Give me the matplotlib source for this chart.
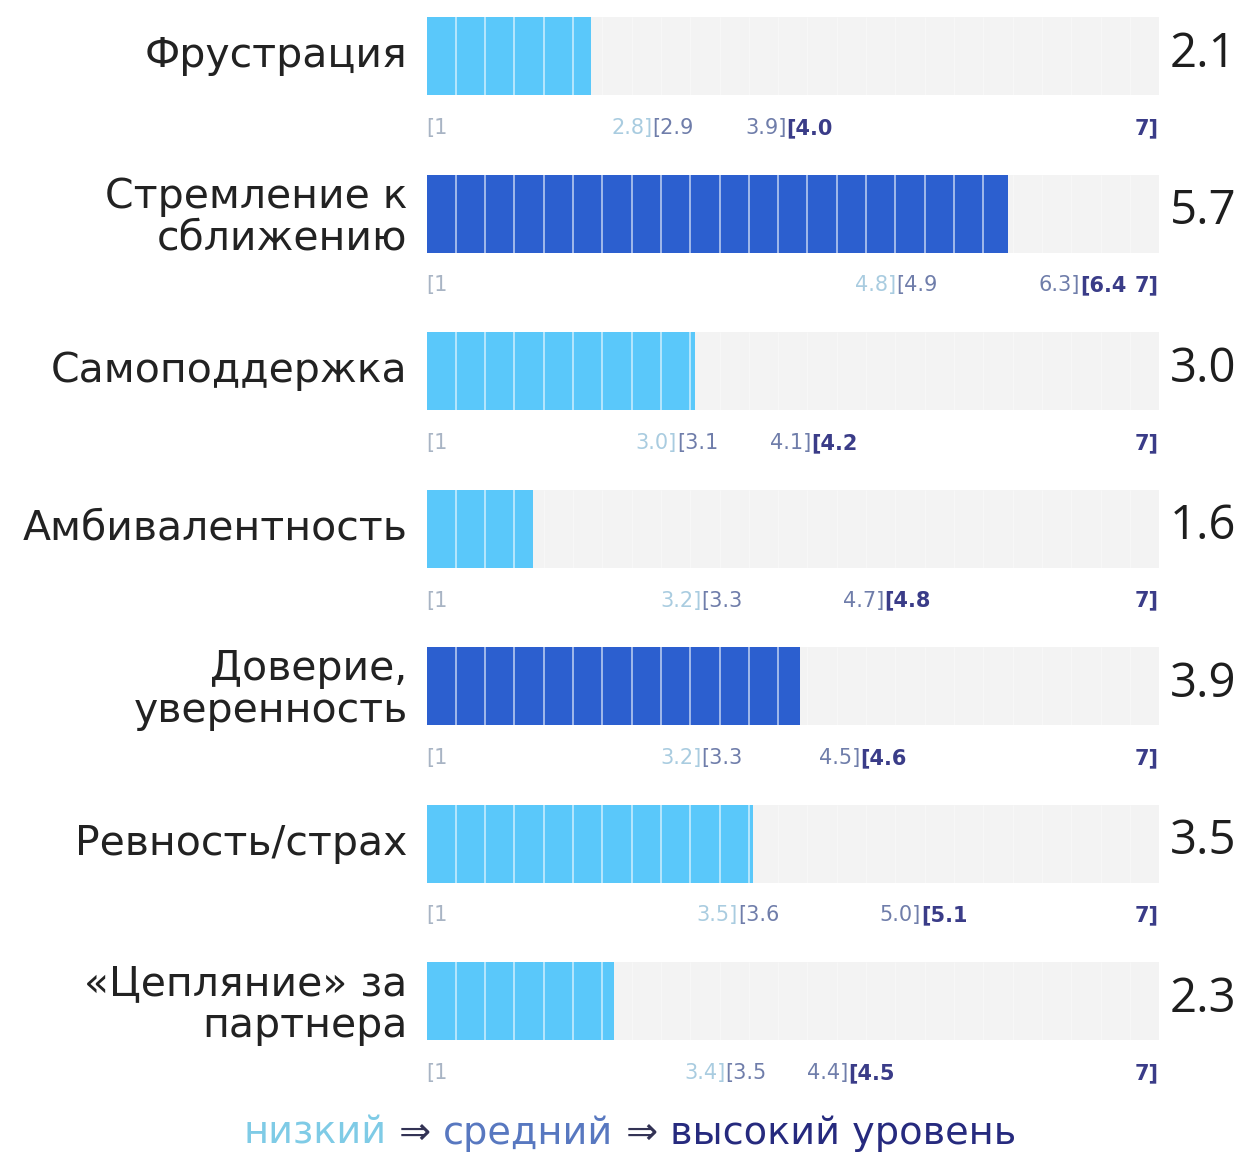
import matplotlib
matplotlib.use("Agg")
import matplotlib.pyplot as plt
from matplotlib.patches import Rectangle

plt.rcParams['font.family'] = ['DejaVu Sans']

# ---- data ----
categories = ["Фрустрация", "Стремление к\nсближению", "Самоподдержка",
              "Амбивалентность", "Доверие,\nуверенность", "Ревность/страх",
              "«Цепляние» за\nпартнера"]
scores = [2.1, 5.7, 3.0, 1.6, 3.9, 3.5, 2.3]
low_upper = [2.8, 4.8, 3.0, 3.2, 3.2, 3.5, 3.4]
mid_lower = [2.9, 4.9, 3.1, 3.3, 3.3, 3.6, 3.5]
mid_upper = [3.9, 6.3, 4.1, 4.7, 4.5, 5.0, 4.4]
high_lower = [4.0, 6.4, 4.2, 4.8, 4.6, 5.1, 4.5]
scale_min, scale_max = 1, 7
legend_parts = ["низкий", "средний", "высокий уровень"]

# ---- style ----
W, H = 1253, 1157
LIGHT_BAR = "#5AC8FA"
DARK_BAR = "#2C5FCF"
TRACK = "#F3F3F3"
C_LOW = "#A9CCE0"
C_START = "#A8B4C4"
C_MID = "#6F7DAA"
C_HIGH = "#3A3C88"
N_CELLS = 25
VALUE_FONT = ['Open Sans', 'DejaVu Sans']

fig = plt.figure(figsize=(W / 100, H / 100), dpi=100)
ax = fig.add_axes([0, 0, 1, 1])
# horizontal value scale spanning the whole canvas; vertical in pixels
x_left, x_right = -3.0, 7.81
ax.set_xlim(x_left, x_right)
ax.set_ylim(H, 0)
ax.axis("off")

track_start = 0.68
px_per_unit = W / (x_right - x_left)


def label_x(v):
    """Position of a range label along the track (1 .. 7 spans the track)."""
    return track_start + (v - scale_min) / (scale_max - scale_min) * (scale_max - track_start)


row0, row_step, bar_h = 56, 157.5, 78
cell_w = (scale_max - track_start) / N_CELLS

for i, cat in enumerate(categories):
    yc = row0 + i * row_step
    score = scores[i]
    color = LIGHT_BAR if score <= low_upper[i] else DARK_BAR

    # background track
    ax.add_patch(Rectangle((track_start, yc - bar_h / 2), scale_max - track_start, bar_h,
                           facecolor=TRACK, edgecolor="none", zorder=1))
    # filled bar
    ax.barh(yc, score - track_start, left=track_start, height=bar_h,
            color=color, edgecolor="none", zorder=2)
    # cell separators
    for k in range(1, N_CELLS):
        xk = track_start + k * cell_w
        if xk < score:
            ax.plot([xk, xk], [yc - bar_h / 2, yc + bar_h / 2], color="white",
                    lw=1.3, alpha=0.6, zorder=3, solid_capstyle="butt")
        else:
            ax.plot([xk, xk], [yc - bar_h / 2, yc + bar_h / 2], color="white",
                    lw=1.0, alpha=0.35, zorder=1.5, solid_capstyle="butt")

    # category label
    multiline = "\n" in cat
    ax.text(track_start - 19 / px_per_unit, yc + (4 if multiline else 0), cat,
            ha="right", va="center", fontsize=29.5, color="#222222", linespacing=1.05)
    # score value
    ax.text(scale_max + 11 / px_per_unit, yc - 2, f"{score:.1f}", ha="left", va="center",
            fontsize=34, color="#1E1E1E", family=VALUE_FONT)

    # range labels below the bar
    yl = yc + 72
    fs = 15
    ax.text(label_x(scale_min), yl, f"[{scale_min}", ha="left", va="center",
            fontsize=fs, color=C_START)
    j1 = label_x((low_upper[i] + mid_lower[i]) / 2)
    ax.text(j1, yl, f"{low_upper[i]:.1f}]", ha="right", va="center",
            fontsize=fs, color=C_LOW)
    ax.text(j1, yl, f"[{mid_lower[i]:.1f}", ha="left", va="center",
            fontsize=fs, color=C_MID)
    j2 = label_x((mid_upper[i] + high_lower[i]) / 2)
    ax.text(j2, yl, f"{mid_upper[i]:.1f}]", ha="right", va="center",
            fontsize=fs, color=C_MID)
    ax.text(j2, yl, f"[{high_lower[i]:.1f}", ha="left", va="center",
            fontsize=fs, color=C_HIGH, fontweight="bold")
    ax.text(label_x(scale_max), yl, f"{scale_max}]", ha="right", va="center",
            fontsize=fs, color=C_HIGH, fontweight="bold")

# level legend at the bottom
legend_colors = ["#7FCBE6", "#5878C0", "#262A7E"]
arrow = " \u21d2 "
pieces = [(legend_parts[0], legend_colors[0]), (arrow, "#333355"),
          (legend_parts[1], legend_colors[1]), (arrow, "#333355"),
          (legend_parts[2], legend_colors[2])]
renderer = fig.canvas.get_renderer()
texts = []
for s, c in pieces:
    t = ax.text(0, 1134, s, ha="left", va="center", fontsize=27.5, color=c)
    texts.append(t)
widths = [t.get_window_extent(renderer).width for t in texts]
total = sum(widths)
start_px = 630 - total / 2
cur = start_px
for t, w in zip(texts, widths):
    t.set_x(x_left + cur / px_per_unit)
    cur += w

fig.savefig("out.png", dpi=100, facecolor="white")
